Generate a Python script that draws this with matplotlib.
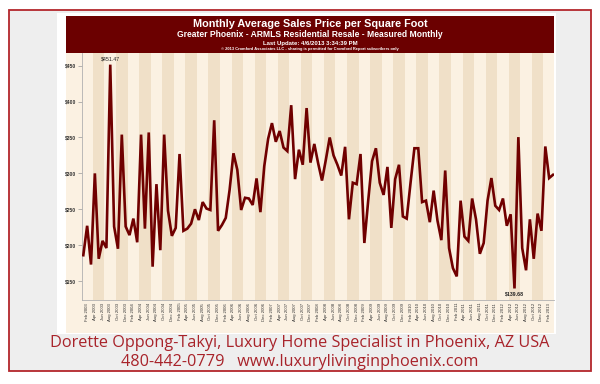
import matplotlib
matplotlib.use('Agg')
import matplotlib.pyplot as plt
from matplotlib.patches import Rectangle
import pandas as pd

# ---------------- data ----------------
start_month = '2003-01-01'
price = [186, 227, 173, 300, 181, 206, 196, 451.47, 226, 195, 354, 226, 214, 237, 204,
         354, 223, 357, 170, 285, 193, 354, 248, 213, 224, 327, 220, 223, 230, 250,
         235, 260, 251, 249, 374, 220, 228, 238, 277, 328, 305, 249, 266, 265, 256,
         293, 246, 310, 348, 370, 344, 359, 336, 331, 395, 292, 333, 312, 391, 315,
         341, 314, 290, 319, 350, 325, 312, 297, 337, 236, 287, 285, 327, 203, 262,
         317, 335, 287, 270, 309, 224, 292, 312, 240, 237, 287, 335, 335, 260, 262,
         232, 276, 234, 207, 304, 196, 168, 156.5, 262, 212, 206, 265, 236, 188, 203,
         262, 293.5, 255, 249, 265, 227, 243, 139.68, 350.5, 196, 165, 236, 181, 244,
         220, 337.5, 293.5, 298]
y_ticks = [150, 200, 250, 300, 350, 400, 450]
y_tick_labels = ['$150', '$200', '$250', '$300', '$350', '$400', '$450']
title_lines = ['Monthly Average Sales Price per Square Foot',
               'Greater Phoenix - ARMLS Residential Resale - Measured Monthly',
               'Last Update: 4/6/2013 3:34:39 PM',
               '\u00a9 2013 Cromford Associates LLC - sharing is permitted for Cromford Report subscribers only']
footer_lines = ['Dorette Oppong-Takyi, Luxury Home Specialist in Phoenix, AZ USA',
                '480-442-0779   www.luxurylivinginphoenix.com']
max_label = '$451.47'
min_label = '$139.68'

dates = pd.date_range(start_month, periods=len(price), freq='MS')
tick_idx = [i for i, d in enumerate(dates) if d.month % 2 == 0]
tick_labels = [dates[i].strftime('%b %Y') for i in tick_idx]

# ---------------- styling ----------------
W, H = 600, 384
LIGHT = '#fbf1e2'
DARK = '#f0e0c8'
MAROON = '#6b0000'
LINE = '#700000'
FONT = ['Liberation Sans', 'DejaVu Sans']

fig = plt.figure(figsize=(W / 100, H / 100), dpi=100)
fig.patch.set_facecolor('white')


def rect(x0, y0, x1, y1, **kw):
    fig.patches.append(Rectangle((x0 / W, 1 - y1 / H), (x1 - x0) / W, (y1 - y0) / H,
                                 transform=fig.transFigure, zorder=-10, **kw))


def text(x, y, s, **kw):
    fig.text(x / W, 1 - y / H, s, **kw)


rect(9, 10, 591, 371, facecolor='#eeeeee', edgecolor='#b3262c', linewidth=1.3)
rect(57, 13, 556, 334, facecolor='white', edgecolor='none')
rect(66, 53, 554, 333, facecolor=LIGHT, edgecolor='none')
rect(66, 16, 554, 53, facecolor=MAROON, edgecolor='none')

# title texts
text(310, 24.3, title_lines[0], color='white', fontsize=7.8, fontweight='bold',
     ha='center', va='center', family=FONT)
text(310, 34.5, title_lines[1], color='white', fontsize=6.15, fontweight='bold',
     ha='center', va='center', family=FONT)
text(310, 43, title_lines[2], color='white', fontsize=4.3, fontweight='bold',
     ha='center', va='center', family=FONT)
text(310, 49.3, title_lines[3], color='white', fontsize=2.9, fontweight='bold',
     ha='center', va='center', family=FONT)

# axes
ax = fig.add_axes([82 / W, 1 - 300 / H, (554 - 82) / W, (300 - 53) / H])
ax.set_zorder(5)
ax.set_facecolor(LIGHT)
for i, d in enumerate(dates):
    if d.month in (4, 10):
        ax.axvspan(i - 0.5, i + 2.5, color=DARK, lw=0, zorder=0)

ax.plot(range(len(price)), price, color=LINE, lw=1.9, solid_joinstyle='miter', zorder=3)

imax = price.index(max(price))
imin = price.index(min(price))
ax.annotate(max_label, (imax, price[imax]), xytext=(0, 2.5), textcoords='offset points',
            ha='center', va='bottom', fontsize=3.8, color='#222222', family=FONT)
ax.annotate(min_label, (imin, price[imin]), xytext=(0, -2), textcoords='offset points',
            ha='center', va='top', fontsize=3.8, color='#222222', family=FONT, fontweight='bold')

ax.set_xlim(-0.34, 122.26)
ax.set_ylim(123.6, 467.7)
ax.set_yticks(y_ticks)
ax.set_yticklabels(y_tick_labels, fontsize=3.6, fontweight='bold', color='#333333', family=FONT)
ax.set_xticks(tick_idx)
ax.set_xticklabels(tick_labels, rotation=90, fontsize=3.1, color='#333333', family=FONT,
                   ha='center', va='top')
ax.tick_params(axis='y', length=3, width=0.5, color='#999999', pad=1)
ax.tick_params(axis='x', length=0, pad=2)
for s in ('top', 'right'):
    ax.spines[s].set_visible(False)
for s in ('left', 'bottom'):
    ax.spines[s].set_color('#b0b0b0')
    ax.spines[s].set_linewidth(0.6)

# footer
text(300, 343, footer_lines[0], color='#a8232a', fontsize=11.7, ha='center', va='center',
     family=['Open Sans', 'DejaVu Sans'])
text(300, 362, footer_lines[1], color='#a8232a', fontsize=11.7, ha='center', va='center',
     family=['Open Sans', 'DejaVu Sans'])

fig.savefig('out.png', dpi=100, facecolor=fig.get_facecolor())
